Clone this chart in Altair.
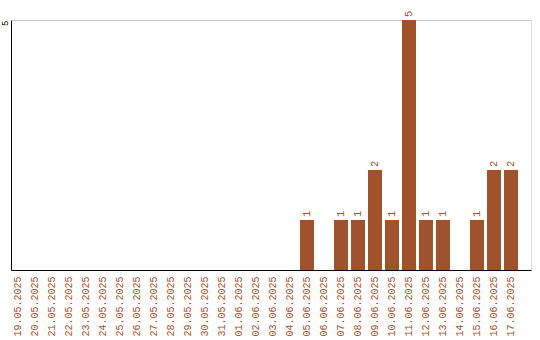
import altair as alt
import pandas as pd

dates = ["19.05.2025","20.05.2025","21.05.2025","22.05.2025","23.05.2025","24.05.2025",
         "25.05.2025","26.05.2025","27.05.2025","28.05.2025","29.05.2025","30.05.2025",
         "31.05.2025","01.06.2025","02.06.2025","03.06.2025","04.06.2025","05.06.2025",
         "06.06.2025","07.06.2025","08.06.2025","09.06.2025","10.06.2025","11.06.2025",
         "12.06.2025","13.06.2025","14.06.2025","15.06.2025","16.06.2025","17.06.2025"]
counts = [0,0,0,0,0,0,0,0,0,0,0,0,0,0,0,0,0,1,0,1,1,2,1,5,1,1,0,1,2,2]

df = pd.DataFrame({"date": dates, "count": counts})
df["label"] = df["count"].apply(lambda v: str(v) if v > 0 else "")

color = "#A0522D"
font = "Liberation Mono"

x = alt.X("date:N", sort=dates, title=None,
          scale=alt.Scale(paddingInner=0.176, paddingOuter=0.382, align=0),
          axis=alt.Axis(labelAngle=270, labelColor=color, labelFont=font, labelFontSize=10,
                        ticks=False, domainColor="black", labelPadding=6, labelAlign="right",
                        labelBaseline="middle"))
y = alt.Y("count:Q", title=None, scale=alt.Scale(domain=[0, 5], nice=False),
          axis=alt.Axis(values=[5], ticks=False, labelAngle=270, labelFont=font, labelFontSize=9,
                        labelColor="black", domainColor="black", gridColor="#cccccc",
                        labelPadding=7, labelAlign="right", labelBaseline="middle"))

bars = alt.Chart(df).mark_bar(color=color).encode(x=x, y=y)
text = alt.Chart(df).mark_text(angle=270, align="left", baseline="middle", dx=3,
                               color=color, font=font, fontSize=10.5).encode(
    x=alt.X("date:N", sort=dates), y="count:Q", text="label:N")

chart = (bars + text).properties(
    width=520, height=250,
    autosize=alt.AutoSizeParams(type="none"),
    padding={"left": 11, "top": 20, "right": 9, "bottom": 70},
).configure_view(stroke=None).configure(background="white")

chart.save("out.html", embed_options={"renderer": "svg", "actions": False})
